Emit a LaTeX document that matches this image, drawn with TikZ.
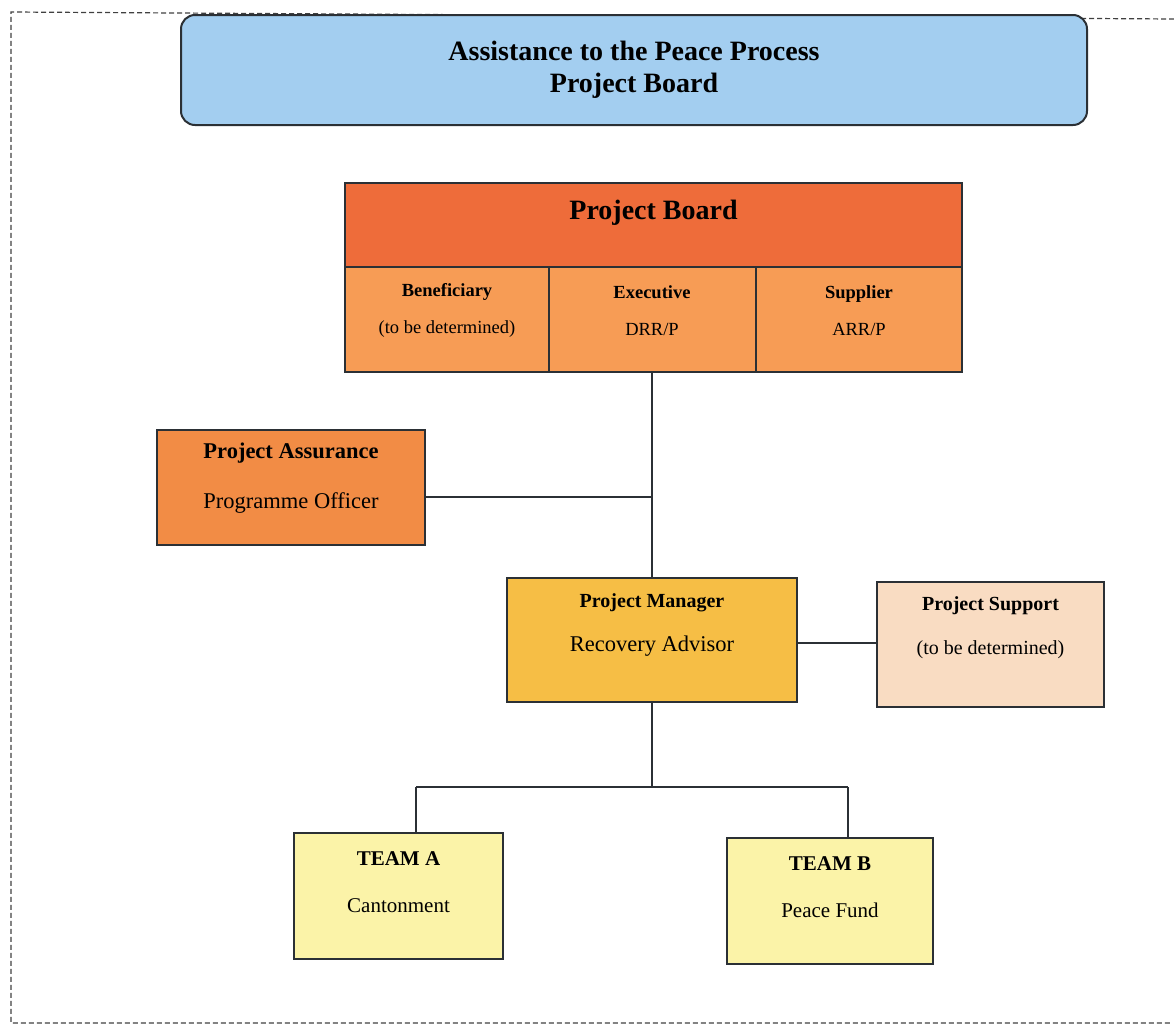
\documentclass[tikz,border=0pt]{standalone}
\usepackage{fontspec}
\setmainfont{Liberation Serif}
\definecolor{titleblue}{HTML}{A3CEF0}
\definecolor{boardhead}{HTML}{EE6C3A}
\definecolor{boardcell}{HTML}{F79C55}
\definecolor{assure}{HTML}{F28C45}
\definecolor{pmgold}{HTML}{F6BE45}
\definecolor{support}{HTML}{F9DCC2}
\definecolor{team}{HTML}{FBF3A8}
\definecolor{edge}{HTML}{2B3035}
\tikzset{
  box/.style={draw=edge, line width=2pt, rectangle, inner sep=0pt},
  conn/.style={draw=edge, line width=1.8pt},
  lbl/.style={align=center, inner sep=0pt, text=black},
  frame/.style={draw=black!75, line width=1.2pt, dash pattern=on 5pt off 3pt},
}
\newcommand{\twol}[3]{\textbf{#1}\\[#3]#2}
\begin{document}
\begin{tikzpicture}[x=1pt,y=-1pt]
\useasboundingbox (0,0) rectangle (1174,1031);
% dashed frame
\draw[frame] (1174,19) -- (11,12) -- (11,1023) -- (1172,1023);
% title
\node[box, fill=titleblue, rounded corners=14pt, minimum width=906pt, minimum height=110pt,
  font=\fontsize{28}{32}\selectfont\bfseries, align=center] (title) at (634,70)
  {Assistance to the Peace Process\\Project Board};
% project board
\node[box, fill=boardhead, minimum width=617pt, minimum height=84pt,
  label={[lbl, font=\fontsize{28}{32}\selectfont\bfseries, yshift=12pt]center:Project Board}] (board) at (653.5,225) {};
\node[box, fill=boardcell, minimum width=204pt, minimum height=105pt,
  label={[lbl, font=\fontsize{18.5}{22}\selectfont, yshift=9pt]center:{\twol{Beneficiary}{(to be determined)}{15pt}}}] (ben) at (447,319.5) {};
\node[box, fill=boardcell, minimum width=207pt, minimum height=105pt,
  label={[lbl, font=\fontsize{18.5}{22}\selectfont, yshift=9pt]center:{\twol{Executive}{DRR/P}{15pt}}}] (exe) at (652,319.5) {};
\node[box, fill=boardcell, minimum width=206pt, minimum height=105pt,
  label={[lbl, font=\fontsize{18.5}{22}\selectfont, yshift=9pt]center:{\twol{Supplier}{ARR/P}{15pt}}}] (sup) at (859,319.5) {};
% assurance
\node[box, fill=assure, minimum width=268pt, minimum height=115pt,
  label={[lbl, font=\fontsize{22.5}{26}\selectfont, yshift=9pt]center:{\twol{Project Assurance}{Programme Officer}{24pt}}}] (pa) at (291,487.5) {};
% manager
\node[box, fill=pmgold, minimum width=290pt, minimum height=124pt,
  label={[lbl, font=\fontsize{20}{24}\selectfont, yshift=15pt]center:{\textbf{Project Manager}\\[20pt]{\fontsize{22.5}{26}\selectfont Recovery Advisor}}}] (pm) at (652,640) {};
% support
\node[box, fill=support, minimum width=227pt, minimum height=125pt,
  label={[lbl, font=\fontsize{20}{24}\selectfont, yshift=17pt]center:{\twol{Project Support}{(to be determined)}{20pt}}}] (ps) at (990.5,644.5) {};
% teams
\node[box, fill=team, minimum width=209pt, minimum height=126pt,
  label={[lbl, font=\fontsize{21}{25}\selectfont, yshift=14pt]center:{\twol{TEAM A}{Cantonment}{22pt}}}] (ta) at (398.5,896) {};
\node[box, fill=team, minimum width=206pt, minimum height=126pt,
  label={[lbl, font=\fontsize{21}{25}\selectfont, yshift=14pt]center:{\twol{TEAM B}{Peace Fund}{22pt}}}] (tb) at (830,901) {};
% connectors
\coordinate (j1) at (652,497);
\coordinate (bus) at (652,787);
\coordinate (busA) at (416,787);
\coordinate (busB) at (848,787);
\draw[conn] (exe.south) -- (pm.north);
\draw[conn] (pa.east |- j1) -- (j1);
\draw[conn] (pm.east |- 0,643) -- (ps.west |- 0,643);
\draw[conn] (pm.south) -- (bus);
\draw[conn] (busA) -- (busB);
\draw[conn] (busA) -- (busA |- ta.north);
\draw[conn] (busB) -- (busB |- tb.north);
\end{tikzpicture}
\end{document}
